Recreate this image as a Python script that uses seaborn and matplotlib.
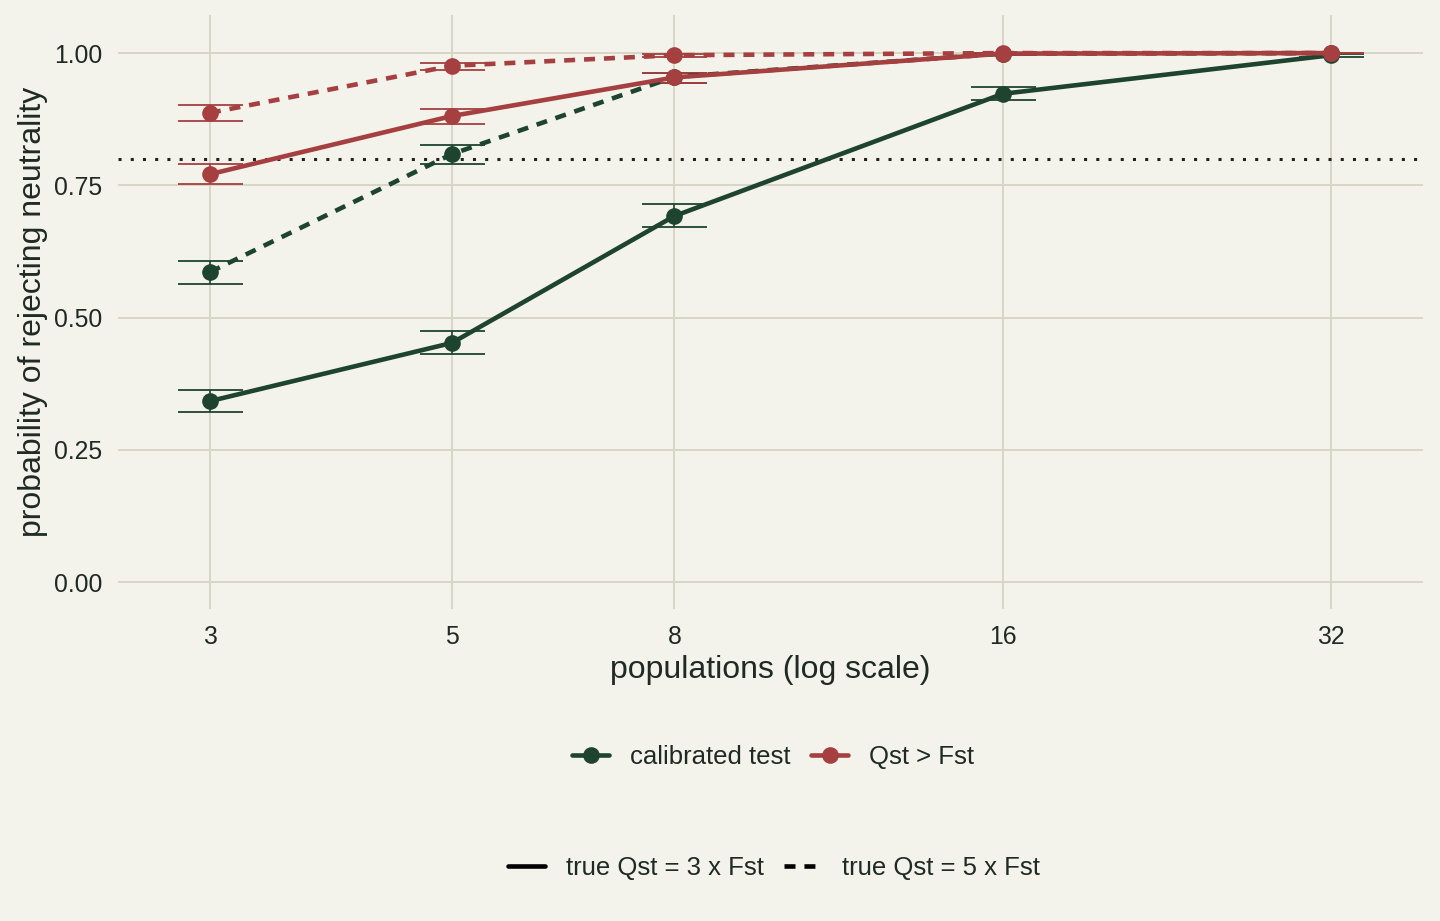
import matplotlib
matplotlib.use("Agg")
import matplotlib.pyplot as plt
from matplotlib.lines import Line2D
import seaborn as sns
import pandas as pd

# populations sampled
n_pops = [3, 5, 8, 16, 32]

# calibrated test, true Qst = 3 x Fst
cal3 = [0.342, 0.452, 0.692, 0.923, 0.996]
cal3_lo = [0.321, 0.431, 0.672, 0.911, 0.993]
cal3_hi = [0.363, 0.474, 0.714, 0.935, 0.999]
# calibrated test, true Qst = 5 x Fst
cal5 = [0.586, 0.809, 0.955, 0.999, 1.0]
cal5_lo = [0.563, 0.791, 0.944, 0.997, 1.0]
cal5_hi = [0.607, 0.826, 0.963, 1.0, 1.0]
# Qst > Fst, true Qst = 3 x Fst
qf3 = [0.771, 0.881, 0.954, 0.999, 1.0]
qf3_lo = [0.752, 0.866, 0.944, 0.997, 1.0]
qf3_hi = [0.790, 0.895, 0.963, 1.0, 1.0]
# Qst > Fst, true Qst = 5 x Fst
qf5 = [0.887, 0.976, 0.996, 1.0, 1.0]
qf5_lo = [0.872, 0.968, 0.993, 1.0, 1.0]
qf5_hi = [0.902, 0.982, 0.999, 1.0, 1.0]

power_cutoff = 0.8

tests = ["calibrated test", "Qst > Fst"]
ratios = ["true Qst = 3 x Fst", "true Qst = 5 x Fst"]

rows = []
for test, ratio, p, lo, hi in [
    (tests[0], ratios[0], cal3, cal3_lo, cal3_hi),
    (tests[0], ratios[1], cal5, cal5_lo, cal5_hi),
    (tests[1], ratios[0], qf3, qf3_lo, qf3_hi),
    (tests[1], ratios[1], qf5, qf5_lo, qf5_hi),
]:
    for i, n in enumerate(n_pops):
        rows.append({"n": n, "p": p[i], "lo": lo[i], "hi": hi[i],
                     "test": test, "ratio": ratio})
df = pd.DataFrame(rows)

bg = "#F3F2EB"
grid_col = "#D7D6C6"
txt = "#1F2A24"
palette = {tests[0]: "#1E4430", tests[1]: "#A63F40"}
lw = 3.3
dash_map = {ratios[0]: "", ratios[1]: (2.4, 1.95)}

sns.set_theme(style="whitegrid", rc={
    "axes.facecolor": bg, "figure.facecolor": bg,
    "grid.color": grid_col, "grid.linewidth": 1.4,
})
plt.rcParams["font.family"] = ["Liberation Sans", "DejaVu Sans"]

fig = plt.figure(figsize=(14.4, 9.21), dpi=100)
ax = fig.add_axes([118 / 1440, 1 - 609 / 921, 1305 / 1440, 594 / 921])

ax.axhline(power_cutoff, color="#222222", lw=2.2, ls=(0, (1, 3)), zorder=1)

# error bars with caps
for test in tests:
    sub = df[df["test"] == test]
    ax.errorbar(sub["n"], sub["p"],
                yerr=[sub["p"] - sub["lo"], sub["hi"] - sub["p"]],
                fmt="none", ecolor=palette[test], elinewidth=1.2,
                capsize=23.4, capthick=1.3, zorder=2)

sns.lineplot(data=df, x="n", y="p", hue="test", style="ratio",
             palette=palette, hue_order=tests, style_order=ratios,
             dashes=dash_map, markers={r: "o" for r in ratios},
             markersize=12, markeredgewidth=0, linewidth=lw,
             errorbar=None, legend=False, ax=ax, zorder=3)

ax.set_xscale("log", base=2)
ax.set_xlim(2 ** 1.305, 2 ** 5.28)
ax.set_ylim(-0.051, 1.072)
ax.set_xticks(n_pops)
ax.set_xticklabels([str(n) for n in n_pops])
ax.minorticks_off()
ax.set_yticks([0, 0.25, 0.5, 0.75, 1.0])
ax.set_yticklabels(["0.00", "0.25", "0.50", "0.75", "1.00"])
ax.tick_params(axis="x", length=0, pad=11.5, labelsize=17.8, labelcolor=txt)
ax.tick_params(axis="y", length=0, pad=11.5, labelsize=17.8, labelcolor=txt)
ax.grid(True, which="major")
for s in ax.spines.values():
    s.set_visible(False)

ax.set_xlabel("populations (log scale)", fontsize=23, color=txt, labelpad=4)
ax.set_ylabel("probability of rejecting neutrality", fontsize=23, color=txt,
              labelpad=4)

# colour legend
h1 = [Line2D([], [], color=palette[t], lw=lw, marker="o", markersize=12,
             markeredgewidth=0) for t in tests]
fig.legend(h1, tests, loc="center", bbox_to_anchor=(773 / 1440, 1 - 757 / 921),
           ncol=2, frameon=False, fontsize=18.5, handlelength=1.45,
           handletextpad=0.8, columnspacing=0.8, labelcolor=txt)
# line type legend
h2 = [Line2D([], [], color="black", lw=lw, ls="-"),
      Line2D([], [], color="black", lw=lw, dashes=dash_map[ratios[1]])]
fig.legend(h2, ratios, loc="center", bbox_to_anchor=(774 / 1440, 1 - 868 / 921),
           ncol=2, frameon=False, fontsize=18.5, handlelength=1.45,
           handletextpad=0.8, columnspacing=0.8, labelcolor=txt)

fig.savefig("out.png", dpi=100, facecolor=bg)
